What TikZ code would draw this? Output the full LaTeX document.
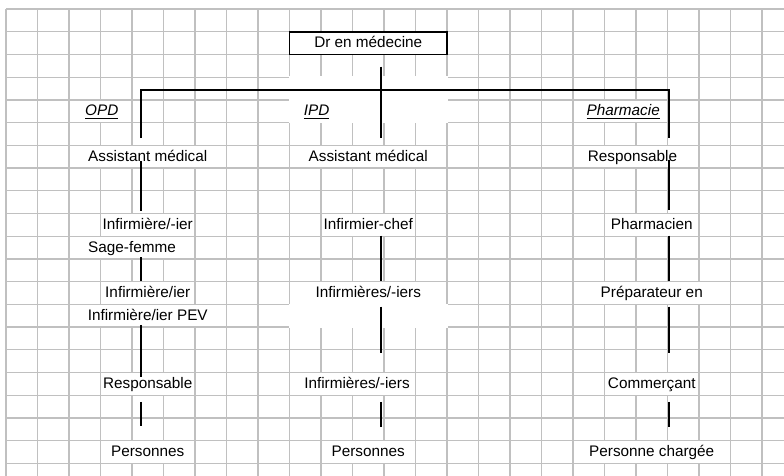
\documentclass[tikz,border=0pt]{standalone}
\usepackage{fontspec}
\setmainfont{Liberation Sans}
\usepackage{xcolor}
\definecolor{gridgray}{RGB}{192,192,192}
\newcommand\colw{31.5}
\newcommand\rowh{22.72}
\newcommand\ultext[1]{\setbox0\hbox{#1}\rlap{\rule[-3.1pt]{\wd0}{1.2pt}}\box0}

\begin{document}
\begin{tikzpicture}[x=1pt,y=-1pt,
      font=\fontsize{15.3pt}{18pt}\selectfont,
      gridline/.style={draw=gridgray,line width=1.3pt},
      cell/.style={fill=white,anchor=base,inner xsep=1pt,inner ysep=0pt,text height=15.2pt,text depth=6.1pt},
      section/.style={cell,font=\fontsize{15.3pt}{18pt}\selectfont\itshape},
      link/.style={draw=black,line width=2pt}
    ]
    \useasboundingbox (0,0) rectangle (784,476);

    % the sheet
    \foreach \k in {0,...,24}{
      \draw[gridline] ({6+\colw*\k},9) -- ++(0,467);
    }
    \foreach \j in {0,...,20}{
      \draw[gridline] (6,{9+\rowh*\j}) -- (784,{9+\rowh*\j});
    }
    \fill[white] (288.8,76.5) rectangle (447.7,123.3);
    \fill[white] (288.8,303.7) rectangle (447.7,327.8);

    \node[cell,draw=black,line width=1.7pt,inner xsep=0pt,minimum width=157.5pt,text height=15.92pt,text depth=6.8pt] (dr) at (368.25,47.64) {Dr en médecine};

    \node[section,anchor=base west] (opd) at (84,115.8) {\ultext{OPD}};
    \node[section,anchor=base west] (ipd) at (302.7,115.8) {\ultext{IPD}};
    \node[section,anchor=base east] (pharma) at (661,115.8) {\ultext{Pharmacie}};

    % OPD
    \node[cell] (asmL) at (147.75,161.24) {Assistant médical};
    \node[cell] (infL) at (147.75,229.4) {Infirmière/-ier};
    \node[cell] (sageL) at (132,252.12) {Sage-femme};
    \node[cell] (infiL) at (147.75,297.56) {Infirmière/ier};
    \node[cell] (pevL) at (147.75,320.28) {Infirmière/ier PEV};
    \node[cell] (respL) at (147.75,388.44) {Responsable};
    \node[cell] (persL) at (147.75,456.6) {Personnes};

    % IPD
    \node[cell] (asmM) at (368.25,161.24) {Assistant médical};
    \node[cell] (infchM) at (368.25,229.4) {Infirmier-chef};
    \node[cell] (infsM) at (368.25,297.56) {Infirmières/-iers};
    \node[cell] (infs2M) at (357,388.44) {Infirmières/-iers};
    \node[cell] (persM) at (368.25,456.6) {Personnes};

    % Pharmacie
    \node[cell] (respR) at (632.5,161.24) {Responsable};
    \node[cell] (pharmR) at (651.75,229.4) {Pharmacien};
    \node[cell] (prepR) at (651.75,297.56) {Préparateur en};
    \node[cell] (comR) at (651.75,388.44) {Commerçant};
    \node[cell] (persR) at (651.75,456.6) {Personne chargée};

    \coordinate (lnL) at (140.7,90);
    \coordinate (lnM) at (381,90);
    \coordinate (lnR) at (669,90);

    \draw[link,shorten <=7.7pt,shorten >=7.7pt] (asmL.north -| lnL) |- (lnR) -- (respR.north -| lnR);
    \draw[link,shorten <=11.3pt,shorten >=7.7pt] (dr.south -| lnM) -- (asmM.north -| lnM);

    \draw[link,shorten <=-6.3pt,shorten >=3.5pt] (asmL.south -| lnL) -- (infL.north -| lnL);
    \draw[link,shorten <=-1.3pt,shorten >=0.7pt] (sageL.south -| lnL) -- (infiL.north -| lnL);
    \draw[link,shorten <=-1.6pt,shorten >=-3.8pt] (pevL.south -| lnL) -- (respL.north -| lnL);
    \draw[link,shorten <=7.2pt,shorten >=14.9pt] (respL.south -| lnL) -- (persL.north -| lnL);

    \draw[link,shorten >=0.7pt] (infchM.south -| lnM) -- (infsM.north -| lnM);
    \draw[link,shorten <=2.8pt,shorten >=19.7pt] (infsM.south -| lnM) -- (infs2M.north -| lnM);
    \draw[link,shorten <=7.2pt,shorten >=14.7pt] (infs2M.south -| lnM) -- (persM.north -| lnM);

    \draw[link,shorten <=-7.3pt,shorten >=3.7pt] (respR.south -| lnR) -- (pharmR.north -| lnR);
    \draw[link,shorten >=0.7pt] (pharmR.south -| lnR) -- (prepR.north -| lnR);
    \draw[link,shorten <=2.8pt,shorten >=19.7pt] (prepR.south -| lnR) -- (comR.north -| lnR);
    \draw[link,shorten <=7.2pt,shorten >=14.7pt] (comR.south -| lnR) -- (persR.north -| lnR);
  \end{tikzpicture}
\end{document}
